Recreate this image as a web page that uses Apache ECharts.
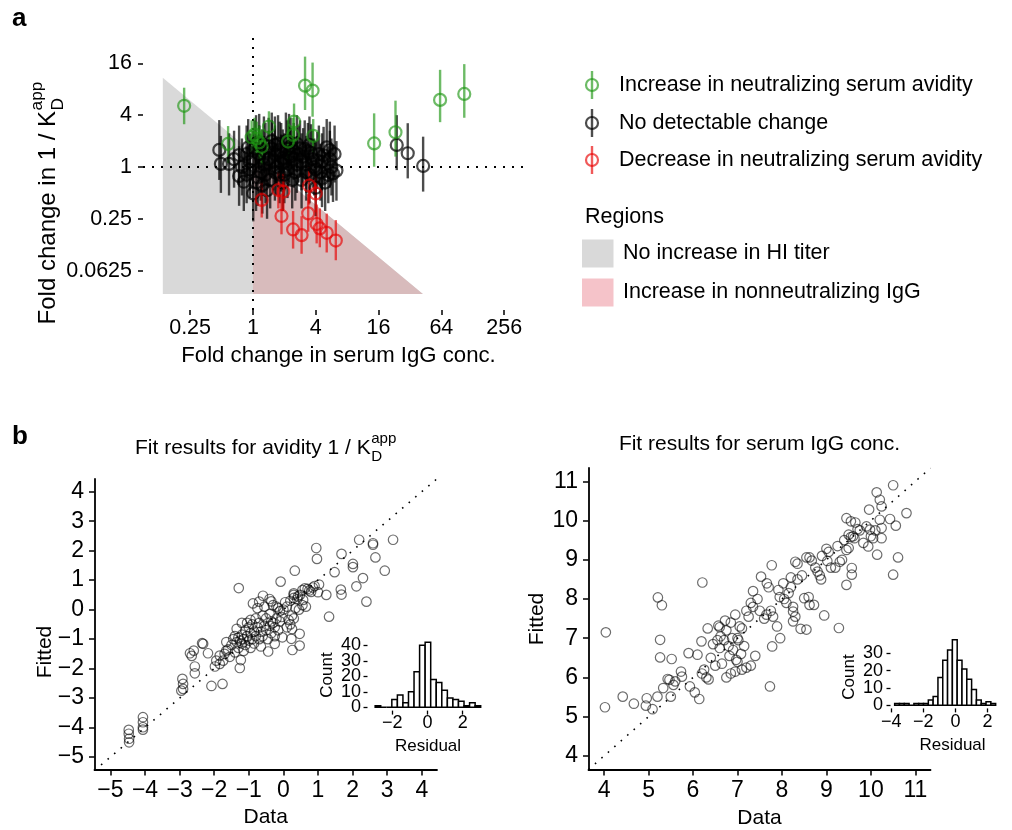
<!DOCTYPE html>
<html><head><meta charset="utf-8">
<script src="https://cdn.jsdelivr.net/npm/echarts@6/dist/echarts.min.js"></script>
<style>html,body{margin:0;padding:0;background:#fff}#c{width:1012px;height:830px}</style>
</head><body><div id="c"></div>
<script>
const FONT = '"Liberation Sans", Arial, Helvetica, sans-serif';

// ---------- Panel a (values are log2 fold changes): [IgG conc., avidity, avidity low, avidity high]
const increasePts = [
 [-2.19,2.36,1.65,3.06],[-0.79,0.89,0.15,1.58],[-0.04,1.15,0.5,1.8],[0.12,1.1,0.45,1.75],
 [0.28,0.78,0.1,1.45],[0.51,1.56,0.95,2.15],[1.31,1.75,1.05,2.45],[1.12,0.98,0.3,1.65],
 [1.28,1.24,0.6,1.9],[1.66,3.14,2.2,4.26],[1.90,2.95,1.94,4.03],[1.92,1.2,0.55,1.85],
 [3.86,0.91,0.01,2.07],[4.54,1.34,0.4,2.56],[5.96,2.59,1.73,3.75],[6.73,2.82,1.9,3.97],
 [0.05,1.25,0.6,1.9],[0.2,0.95,0.3,1.6]
];
const noChangePts = [
 [-1.07,0.66,-0.5,1.81],[-1.02,0.12,-1.0,1.2],[-0.76,0.12,-1.1,1.3],[-0.44,0.46,-0.7,1.6],
 [-0.44,-0.35,-1.5,0.8],[-0.29,-0.57,-1.7,0.6],[0.01,-1.02,-2.1,0.1],[-0.6,0.3,-0.8,1.4],
 [-0.2,0.5,-0.6,1.6],[-0.1,0.2,-0.9,1.3],[0.05,0.7,-0.4,1.8],[0.1,0.9,-0.2,2.0],
 [0.2,0.5,-0.6,1.6],[0.25,-0.2,-1.3,0.9],[0.35,0.1,-1.0,1.2],[0.4,0.6,-0.5,1.7],
 [0.5,0.8,-0.3,1.9],[0.5,0.3,-0.8,1.4],[0.55,-0.5,-1.6,0.6],[0.6,1.0,-0.1,2.1],
 [0.7,0.5,-0.6,1.6],[0.75,0.0,-1.1,1.1],[0.8,0.9,-0.2,2.0],[0.85,-0.3,-1.4,0.8],
 [0.9,0.6,-0.5,1.7],[1.0,0.2,-0.9,1.3],[1.05,1.0,-0.1,2.1],[1.1,-0.1,-1.2,1.0],
 [1.15,0.5,-0.6,1.6],[1.2,0.8,-0.3,1.9],[1.3,0.3,-0.8,1.4],[1.35,-0.2,-1.3,0.9],
 [1.4,0.9,-0.2,2.0],[1.5,0.72,-0.4,1.8],[1.55,-0.5,-1.6,0.6],[1.6,0.4,-0.7,1.5],
 [1.7,0.1,-1.0,1.2],[1.75,0.6,-0.5,1.7],[1.8,-0.3,-1.4,0.8],[1.9,0.3,-0.8,1.4],
 [2.0,-0.1,-1.2,1.0],[2.1,0.5,-0.6,1.6],[2.2,0.2,-0.9,1.3],[2.35,0.76,-0.3,1.85],
 [2.4,-0.31,-1.4,0.8],[2.5,0.0,-1.1,1.1],[2.66,-0.14,-1.3,1.0],[2.3,-0.6,-1.7,0.5],
 [2.0,-0.8,-1.9,0.3],[0.3,-0.7,-1.8,0.4],[0.15,-0.4,-1.5,0.7],[-0.1,-0.1,-1.2,1.0],
 [0.0,0.3,-0.8,1.4],[0.65,0.2,-0.9,1.3],[1.25,-0.5,-1.6,0.6],[0.45,-0.9,-2.0,0.2],
 [0.95,-0.6,-1.7,0.5],[4.58,0.85,-0.12,2.0],[4.93,0.53,-0.44,1.69],[5.42,0.04,-0.95,1.17],
 [0.2,0.95,-0.1,2.05],[0.35,0.85,-0.25,1.95],[0.6,0.7,-0.4,1.8],[0.7,0.85,-0.25,1.95],
 [0.85,0.65,-0.45,1.75],[0.95,0.35,-0.75,1.45],[1.1,0.7,-0.4,1.8],[1.2,0.4,-0.7,1.5],
 [1.3,0.6,-0.5,1.7],[1.45,0.5,-0.6,1.6],[1.55,0.2,-0.9,1.3],[1.65,0.7,-0.4,1.8],
 [1.85,0.55,-0.55,1.65],[1.95,0.0,-1.1,1.1],[2.05,0.25,-0.85,1.35],[2.15,-0.2,-1.3,0.9],
 [2.25,0.45,-0.65,1.55],[2.45,0.3,-0.8,1.4],[2.55,-0.25,-1.35,0.85],[2.6,0.5,-0.6,1.6],
 [1.4,0.1,-1.0,1.2],[1.0,-0.3,-1.4,0.8],[0.7,-0.2,-1.3,0.9],[0.4,-0.3,-1.4,0.8],
 [0.1,-0.6,-1.7,0.5],[-0.2,-0.3,-1.4,0.8],[-0.35,0.0,-1.1,1.1],[-0.15,0.75,-0.35,1.85],
 [0.3,0.35,-0.75,1.45],[0.9,0.15,-0.95,1.25],[1.7,-0.2,-1.3,0.9],[2.2,-0.45,-1.55,0.65],
 [1.15,0.95,-0.15,2.05],[1.8,0.85,-0.25,1.95],[2.45,0.65,-0.45,1.75]
];
const decreasePts = [
 [0.28,-1.27,-1.95,-0.6],[0.81,-0.89,-1.6,-0.2],[0.97,-0.95,-1.65,-0.25],[0.91,-1.89,-2.6,-1.2],
 [1.28,-2.41,-3.15,-1.7],[1.55,-2.63,-3.35,-1.9],[1.76,-1.79,-2.5,-1.05],[1.79,-0.72,-1.45,0.0],
 [2.0,-1.02,-1.75,-0.3],[2.03,-2.2,-2.95,-1.45],[2.13,-2.37,-3.1,-1.6],[2.35,-2.54,-3.3,-1.8],
 [2.64,-2.84,-3.6,-2.05]
];
const regionNoHI = [[-2.87,3.44],[5.41,-4.9],[-2.87,-4.9]];
const regionNonNeut = [[0,0.55],[5.41,-4.9],[0,-4.9]];
const aXTicks = [-2,0,2,4,6,8];
const aXLabels = ['0.25','1','4','16','64','256'];
const aYTicks = [-4,-2,0,2,4];
const aYLabels = ['0.0625','0.25','1','4','16'];

// ---------- Panel b: [data, fitted]
const avidityFit = [
 [3.17,2.37],[2.19,2.37],[2.59,2.25],[2.59,2.20],[2.66,1.77],[2.93,1.32],[2.30,1.07],[2.11,0.79],
 [2.40,0.27],[2.01,1.55],[2.01,1.44],[1.68,1.89],[1.48,1.27],[1.66,0.68],[1.68,0.51],[1.32,-0.24],
 [0.95,2.09],[0.97,1.72],[1.24,0.50],[1.03,0.85],[1.00,0.59],[0.85,0.75],[0.75,0.65],[0.7,0.7],
 [0.62,0.72],[0.55,0.66],[0.57,0.33],[0.9,0.8],[0.8,0.6],[0.48,0.5],[0.42,0.45],[0.33,1.32],
 [-0.08,0.95],[-1.29,0.73],[-0.59,0.47],[-0.4,0.36],[-0.35,0.28],[-0.88,0.21],[-0.7,0.27],[0.3,0.55],
 [0.3,0.4],[0.2,0.3],[0.4,0.35],[0.3,0.5],[0,0],[-0.1,-0.05],[-0.15,0.05],[0.1,0.1],
 [0.05,0.25],[-0.05,-0.25],[-0.2,-0.3],[-0.35,-0.4],[0.25,-0.2],[0.3,-0.3],[0.2,-0.5],[0.47,-0.82],
 [0.47,-1.22],[0.26,-1.37],[0.25,-0.66],[0.23,-0.99],[-0.03,-0.94],[-0.25,-1.16],[-0.44,-1.42],[-1.26,-1.98],
 [-1.23,-1.71],[-1.76,-2.52],[-2.08,-2.59],[-2.18,-1.48],[-2.32,-1.16],[-2.35,-1.14],[-2.59,-1.39],[-2.70,-1.48],
 [-2.65,-1.57],[-2.56,-1.93],[-2.56,-2.16],[-2.92,-2.35],[-2.90,-2.52],[-2.9,-2.69],[-2.95,-2.75],[-4.06,-3.65],
 [-4.06,-3.82],[-4.06,-3.99],[-4.06,-4.07],[-4.47,-4.08],[-4.47,-4.21],[-4.46,-4.38],[-4.46,-4.5],[-1.84,-1.56],
 [-1.94,-1.73],[-1.84,-1.84],[-1.74,-1.73],[-1.98,-1.93],[-1.65,-1.39],[-1.5,-1.2],[-1.45,-1.0],[-1.4,-0.9],
 [-1.35,-1.1],[-1.3,-0.95],[-1.3,-1.3],[-1.25,-1.05],[-1.2,-0.85],[-1.2,-1.15],[-1.15,-1.0],[-1.15,-1.4],
 [-1.1,-0.7],[-1.1,-1.2],[-1.05,-0.9],[-1.0,-1.05],[-1.0,-0.6],[-0.95,-0.8],[-0.95,-1.3],[-0.9,-1.0],
 [-0.9,-0.5],[-0.85,-0.75],[-0.85,-1.15],[-0.8,-0.9],[-0.8,-0.3],[-0.75,-0.6],[-0.7,-1.0],[-0.7,-0.45],
 [-0.65,-0.75],[-0.6,-0.2],[-0.6,-0.9],[-0.55,-0.55],[-0.5,-0.7],[-0.5,-0.3],[-0.45,-1.0],[-0.4,-0.55],
 [-0.4,-0.15],[-0.35,-0.8],[-0.3,-0.45],[-0.25,-0.6],[-0.2,0.1],[-0.15,-0.7],[-0.1,-0.4],[-1.6,-1.35],
 [-1.7,-1.5],[-1.55,-1.6],[-1.4,-1.45],[-1.65,-1.1],[-1.05,-0.45],[-0.75,0.05],[-0.55,0.1],[-0.3,0.15],
 [-0.95,-0.35],[-1.35,-0.65],[-1.2,-0.45],[-0.65,-1.25],[-0.25,-0.9],[0.1,-0.6],[0.15,-0.35],[0.35,0.05],
 [0.45,0.0],[0.55,0.15],[0.65,0.1]
];
const iggFit = [
 [4.02,5.24],[4.04,7.15],[4.42,5.51],[4.67,5.33],[4.96,5.47],[4.94,5.28],[5.09,5.19],[5.20,5.51],
 [5.21,8.04],[5.30,7.84],[5.26,6.96],[5.26,6.51],[5.33,5.73],[5.43,5.96],[5.47,5.94],[5.50,5.51],
 [5.52,6.47],[5.56,5.81],[5.6,5.9],[5.73,6.15],[5.75,6.02],[5.90,6.62],[5.93,5.77],[6.04,5.62],
 [6.14,5.45],[6.10,6.58],[6.19,6.92],[6.21,8.42],[6.2,6.1],[6.25,6.2],[6.3,6.0],[6.35,5.95],
 [6.33,7.25],[6.45,6.85],[6.4,6.5],[6.57,7.32],[6.6,7.28],[6.62,7.05],[6.6,6.75],[6.65,6.35],
 [6.7,6.95],[6.72,7.45],[6.75,7.2],[6.8,6.8],[6.82,6.55],[6.85,7.4],[6.88,7.0],[6.9,6.7],
 [6.95,7.6],[6.97,6.45],[7.0,7.0],[7.02,6.95],[7.05,7.3],[7.08,6.6],[7.1,7.25],[7.15,6.8],
 [7.2,7.7],[7.25,7.55],[7.3,7.9],[7.35,7.8],[6.75,6.0],[6.85,6.1],[7.0,6.4],[7.1,6.2],
 [7.2,6.25],[7.3,6.3],[7.4,6.55],[6.5,6.3],[6.55,6.95],[6.95,6.15],[7.73,5.77],[7.78,6.79],
 [7.77,8.86],[7.96,7.0],[7.89,7.3],[7.53,8.57],[7.66,8.4],[7.7,8.3],[7.92,8.23],[8.03,8.4],
 [7.6,7.5],[7.65,7.6],[7.75,7.7],[7.8,7.55],[7.5,7.7],[7.45,8.0],[7.35,8.2],[7.95,8.05],
 [8.1,7.9],[8.15,8.15],[8.05,8.0],[8.2,8.55],[8.25,7.8],[8.25,7.68],[8.3,7.55],[8.25,7.43],
 [8.42,7.24],[8.55,7.22],[8.5,8.02],[8.6,8.05],[8.62,7.85],[8.72,7.85],[8.95,7.58],[9.28,7.26],
 [8.55,9.06],[8.62,9.06],[8.67,8.98],[8.75,8.8],[8.8,8.7],[8.85,8.6],[8.88,8.5],[9.0,9.28],
 [9.05,9.2],[9.02,8.97],[9.2,8.8],[9.3,8.95],[9.35,9.0],[9.25,9.35],[9.45,8.36],[9.57,8.79],
 [9.57,8.62],[9.45,10.06],[9.55,9.98],[9.5,9.64],[9.55,9.58],[9.6,9.6],[9.63,9.55],[9.7,9.78],
 [9.75,9.75],[9.83,9.43],[9.94,9.34],[9.98,9.77],[10.0,9.6],[10.05,9.55],[9.96,10.28],[10.13,10.72],
 [10.2,10.53],[10.24,10.36],[10.14,9.13],[10.2,10.02],[10.24,9.81],[10.24,9.55],[10.43,10.04],[10.5,10.9],
 [10.5,8.62],[10.56,9.87],[10.61,9.06],[10.8,10.19],[9.4,9.5],[9.5,9.3],[9.45,9.25],[9.1,8.8],
 [8.35,8.5],[8.45,8.6],[8.3,8.95],[8.35,8.9],[8.2,8.3],[8.9,9.1],[9.65,9.95],[9.9,9.85],[10.1,9.75]
];
const bLeftTicks = [-5,-4,-3,-2,-1,0,1,2,3,4];
const bRightTicks = [4,5,6,7,8,9,10,11];

// residual histograms (bin edges and counts)
const avidityResidEdges = [-2.965,-2.65,-2.335,-2.02,-1.705,-1.39,-1.075,-0.76,-0.445,-0.13,0.185,0.5,0.815,1.13,1.445,1.76,2.075,2.39,2.705,3.02];
const avidityResidCounts = [1,0,0,5,8,3,10,23,40,42,18,16,11,6,5,4,1,3,1];
const iggResidEdges = [-3.79,-3.49,-3.19,-2.89,-2.59,-2.29,-1.99,-1.69,-1.39,-1.09,-0.79,-0.49,-0.19,0.11,0.41,0.71,1.01,1.31,1.61,1.91,2.21,2.51];
const iggResidCounts = [1,1,1,0,1,1,1,3,5,16,26,32,38,26,21,15,9,3,1,2,1];
const insetLeftX = [-2,0,2], insetLeftY = [0,10,20,30,40];
const insetRightX = [-4,-2,0,2], insetRightY = [0,10,20,30];

// ---------- styling
const C_GREEN = 'rgba(30,150,20,0.65)';
const C_BLACK = 'rgba(0,0,0,0.7)';
const C_RED = 'rgba(232,0,0,0.65)';
const C_GRAY = '#d9d9d9';
const C_PINKPLOT = '#d8bbbc';
const C_PINKLEG = '#f5c3c9';

const mctx = document.createElement('canvas').getContext('2d');
function tw(s, fs){ mctx.font = fs + 'px ' + FONT; return mctx.measureText(s).width; }
function txt(s, x, baseline, fs, opt){
  opt = opt || {};
  return {type:'text', x:x, y: baseline - 0.35*fs, silent:true,
    style:{text:s, font:(opt.bold?'bold ':'') + fs + 'px ' + FONT, fill:opt.fill||'#000',
      align:opt.align||'left', textAlign:opt.align||'left', verticalAlign:'middle', textVerticalAlign:'middle'}};
}
function kdLabel(prefix, fs){
  const sfs = fs*0.72;
  const main = prefix + '1 / K';
  const w = tw(main, fs);
  const children = [txt(main, 0, 0, fs), txt('D', w+0.5, fs*0.31, sfs), txt('app', w+0.5, -fs*0.57, sfs)];
  return {children, width: w + 0.5 + tw('app', sfs)};
}

function valAxis(grid, min, max, ticks, fmt, o){
  return {type:'value', gridIndex:grid, min:min, max:max,
    axisLine:{show:o.line, onZero:false, lineStyle:{color:'#000', width:o.lw||1.8}},
    axisTick:{show:true, customValues:ticks, length:o.tl||5, inside:false, lineStyle:{color:'#000', width:o.tw||1.5}},
    axisLabel:{show:!o.noLabel, customValues:ticks, formatter:fmt, color:'#000', fontSize:o.fs, fontFamily:FONT, margin:o.margin,
      hideOverlap:false, showMinLabel:true, showMaxLabel:true},
    splitLine:{show:false}};
}
const minusFmt = v => { const r = Math.round(v*100)/100; return r < 0 ? '\u2212' + Math.abs(r) : '' + r; };

const A = {xmin:-3.5, xmax:8.6, ymin:-5.52, ymax:5.21};
const BL = {xmin:-5.46, xmax:4.44, ymin:-5.44, ymax:4.43};
const BR = {xmin:3.65, xmax:11.34, ymin:3.64, ymax:11.34};
const IL = {xmin:-3.4, xmax:3.35, ymin:-2.1, ymax:44.1};
const IR = {xmin:-4.05, xmax:2.75, ymin:-1.9, ymax:39.9};

const chart = echarts.init(document.getElementById('c'), null, {renderer:'canvas', width:1012, height:830});

function errSeries(pts, color){
  return {type:'custom', xAxisIndex:0, yAxisIndex:0, z:5, silent:true, clip:true,
    data: pts.map(p => [p[0], p[2], p[3]]),
    encode:{x:0, y:[1,2]},
    renderItem:(params, api) => {
      const a = api.coord([api.value(0), api.value(1)]);
      const b = api.coord([api.value(0), api.value(2)]);
      return {type:'line', shape:{x1:a[0], y1:a[1], x2:b[0], y2:b[1]}, style:{stroke:color, lineWidth:2.4}};
    }};
}
function ptSeries(pts, color){
  return {type:'scatter', xAxisIndex:0, yAxisIndex:0, z:6, silent:true, symbol:'circle', symbolSize:12,
    data: pts.map(p => [p[0], p[1]]),
    itemStyle:{color:'rgba(0,0,0,0)', borderColor:color, borderWidth:2.2, opacity:1}};
}
const regions = [{pts:regionNoHI, fill:C_GRAY},{pts:regionNonNeut, fill:C_PINKPLOT}];
function histSeries(edges, counts, xi){
  return {type:'custom', xAxisIndex:xi, yAxisIndex:xi, z:4, silent:true, clip:false,
    data: counts.map((c,i) => [edges[i], edges[i+1], c]),
    encode:{x:[0,1], y:2},
    renderItem:(params, api) => {
      const p0 = api.coord([api.value(0), 0]);
      const p1 = api.coord([api.value(1), api.value(2)]);
      return {type:'rect', shape:{x:p0[0], y:p1[1], width:p1[0]-p0[0], height:p0[1]-p1[1]},
        style:{fill:'#fff', stroke:'#000', lineWidth:1.5}};
    }};
}
const dotLineA = {color:'#000', width:2, type:[2,7]};

const series = [
  {type:'custom', xAxisIndex:0, yAxisIndex:0, z:1, silent:true, clip:true,
   data: regions.map(r => r.pts[0]),
   renderItem:(params, api) => {
     const r = regions[params.dataIndex];
     return {type:'polygon', shape:{points: r.pts.map(p => api.coord(p))}, style:{fill:r.fill}};
   },
   markLine:{silent:true, symbol:'none', label:{show:false}, lineStyle:dotLineA, z:3,
     data:[{xAxis:0},{yAxis:0}]}},
  errSeries(noChangePts, C_BLACK), ptSeries(noChangePts, C_BLACK),
  errSeries(increasePts, C_GREEN), ptSeries(increasePts, C_GREEN),
  errSeries(decreasePts, C_RED), ptSeries(decreasePts, C_RED),
  {type:'line', xAxisIndex:1, yAxisIndex:1, z:2, silent:true, symbol:'none', clip:true,
   data:[[BL.xmin, BL.xmin],[BL.ymax, BL.ymax]], lineStyle:{color:'#000', width:1.6, type:[1.6,7]}},
  {type:'scatter', xAxisIndex:1, yAxisIndex:1, z:3, silent:true, symbol:'circle', symbolSize:9.5,
   data: avidityFit, itemStyle:{color:'rgba(0,0,0,0)', borderColor:'rgba(0,0,0,0.72)', borderWidth:1.2}},
  {type:'line', xAxisIndex:2, yAxisIndex:2, z:2, silent:true, symbol:'none', clip:true,
   data:[[BR.xmin, BR.xmin],[BR.xmax, BR.xmax]], lineStyle:{color:'#000', width:1.6, type:[1.6,7]}},
  {type:'scatter', xAxisIndex:2, yAxisIndex:2, z:3, silent:true, symbol:'circle', symbolSize:9.5,
   data: iggFit, itemStyle:{color:'rgba(0,0,0,0)', borderColor:'rgba(0,0,0,0.72)', borderWidth:1.2}},
  histSeries(avidityResidEdges, avidityResidCounts, 3),
  histSeries(iggResidEdges, iggResidCounts, 4)
];

// ---------- graphic: titles, legends, labels
const g = [];
g.push(txt('a', 12, 28, 26, {bold:true}));
g.push(txt('b', 12, 446, 26, {bold:true}));
g.push(txt('Fold change in serum IgG conc.', 338.5, 364, 22.2, {align:'center'}));
(function(){ const k = kdLabel('Fold change in ', 24);
  g.push({type:'group', x:57, y:203 + k.width/2, rotation:Math.PI/2, children:k.children}); })();
const legRows = [[C_GREEN,'Increase in neutralizing serum avidity',85],[C_BLACK,'No detectable change',123],[C_RED,'Decrease in neutralizing serum avidity',160]];
legRows.forEach(r => {
  g.push({type:'line', silent:true, shape:{x1:592, y1:r[2]-14, x2:592, y2:r[2]+14}, style:{stroke:r[0], lineWidth:2.4}});
  g.push({type:'circle', silent:true, shape:{cx:592, cy:r[2], r:6}, style:{fill:'none', stroke:r[0], lineWidth:2.2}});
  g.push(txt(r[1], 619, r[2] + 0.35*21.5, 21.5));
});
g.push(txt('Regions', 585, 216.7 + 0.35*21.5, 21.5));
g.push({type:'rect', silent:true, shape:{x:582, y:239.5, width:31.5, height:28}, style:{fill:C_GRAY}});
g.push({type:'rect', silent:true, shape:{x:582, y:278.5, width:31.5, height:28}, style:{fill:C_PINKLEG}});
g.push(txt('No increase in HI titer', 623, 253.5 + 0.35*21.5, 21.5));
g.push(txt('Increase in nonneutralizing IgG', 623, 292 + 0.35*21.5, 21.5));
(function(){ const k = kdLabel('Fit results for avidity ', 21);
  g.push({type:'group', x:265.7 - k.width/2, y:456, children:k.children}); })();
g.push(txt('Fit results for serum IgG conc.', 759.5, 452, 21, {align:'center'}));
g.push(txt('Data', 265.7, 825, 21, {align:'center'}));
g.push(txt('Data', 759.5, 826, 21, {align:'center'}));
g.push({type:'group', x:53, y:652, rotation:Math.PI/2, children:[txt('Fitted', 0, 0, 21, {align:'center'})]});
g.push({type:'group', x:545, y:619, rotation:Math.PI/2, children:[txt('Fitted', 0, 0, 21, {align:'center'})]});
g.push({type:'group', x:333, y:675, rotation:Math.PI/2, children:[txt('Count', 0, 0, 17, {align:'center'})]});
g.push({type:'group', x:855, y:677, rotation:Math.PI/2, children:[txt('Count', 0, 0, 17, {align:'center'})]});
g.push(txt('Residual', 428, 752, 17, {align:'center'}));
g.push(txt('Residual', 952.5, 751, 17, {align:'center'}));

const option = {
  animation:false,
  backgroundColor:'#fff',
  textStyle:{fontFamily:FONT},
  grid:[
    {left:143, top:32, width:380, height:278},
    {left:94.5, top:479, width:342.5, height:291},
    {left:588.5, top:468, width:342, height:302},
    {left:367.5, top:639, width:119, height:71.6},
    {left:890.5, top:636.4, width:109, height:72}
  ],
  xAxis:[
    valAxis(0, A.xmin, A.xmax, aXTicks, v => aXLabels[aXTicks.indexOf(Math.round(v))], {line:false, fs:21.5, margin:7.5}),
    valAxis(1, BL.xmin, BL.xmax, bLeftTicks, minusFmt, {line:true, fs:23, margin:9, tl:5.5}),
    valAxis(2, BR.xmin, BR.xmax, bRightTicks, minusFmt, {line:true, fs:23, margin:9, tl:5.5}),
    valAxis(3, IL.xmin, IL.xmax, insetLeftX, minusFmt, {line:false, fs:18, margin:3.5, tl:4, tw:1.3}),
    valAxis(4, IR.xmin, IR.xmax, insetRightX, minusFmt, {line:false, fs:18, margin:5, tl:4, tw:1.3})
  ],
  yAxis:[
    valAxis(0, A.ymin, A.ymax, aYTicks, v => aYLabels[aYTicks.indexOf(Math.round(v))], {line:false, fs:21.5, margin:11}),
    valAxis(1, BL.ymin, BL.ymax, bLeftTicks, minusFmt, {line:true, fs:23, margin:10.5, tl:5.5}),
    valAxis(2, BR.ymin, BR.ymax, bRightTicks, minusFmt, {line:true, fs:23, margin:10.5, tl:5.5}),
    valAxis(3, IL.ymin, IL.ymax, insetLeftY, minusFmt, {line:false, fs:18, margin:6, tl:4, tw:1.3, noLabel:true}),
    valAxis(4, IR.ymin, IR.ymax, insetRightY, minusFmt, {line:false, fs:18, margin:7, tl:4, tw:1.3, noLabel:true})
  ],
  series: series,
  graphic: g
};
chart.setOption(option);

// inset count labels placed through the inset axes' own scales (they are tightly packed)
const extra = [];
insetLeftY.forEach(v => {
  const p = chart.convertToPixel({xAxisIndex:3, yAxisIndex:3}, [IL.xmin, v]);
  extra.push(txt(String(v), p[0] - 6.5, p[1] + 0.35*18, 18, {align:'right'}));
});
insetRightY.forEach(v => {
  const p = chart.convertToPixel({xAxisIndex:4, yAxisIndex:4}, [IR.xmin, v]);
  extra.push(txt(String(v), p[0] - 7.5, p[1] + 0.35*18, 18, {align:'right'}));
});
chart.setOption({graphic: g.concat(extra)});
</script></body></html>
